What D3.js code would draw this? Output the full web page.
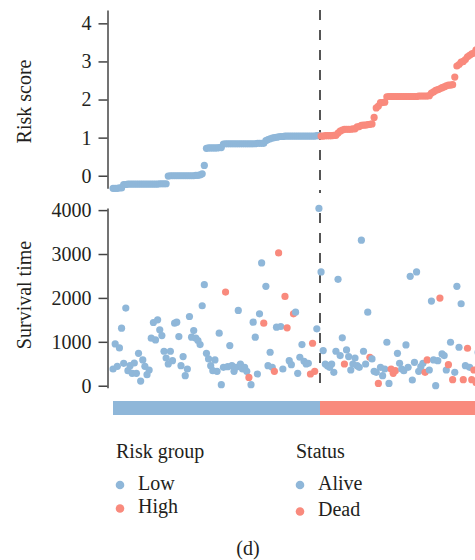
<!DOCTYPE html>
<html lang="en">
<head>
<meta charset="utf-8">
<title>Risk score, survival time and status</title>
<script src="https://d3js.org/d3.v7.min.js"></script>
<style type="text/css">
  body { margin: 0; background: #fff; }
  svg text { font-family: "Liberation Serif", "DejaVu Serif", serif; fill: #231f20; }
  .axis text { font-size: 20px; }
  .axis path, .axis line { stroke: #444; stroke-width: 1.5; }
  .label { font-size: 20px; }
</style>
</head>
<body>
<script type="text/javascript">

// risk score of each patient, sorted (low risk group, then high risk group)
const lowScore = [
  -0.33,-0.33,-0.33,-0.32,-0.32,
  -0.23,-0.23,-0.22,-0.22,-0.22,-0.22,-0.22,-0.22,-0.22,-0.22,
  -0.22,-0.22,-0.22,-0.22,-0.22,-0.22,-0.22,-0.21,-0.21,-0.21,-0.21,
  -0.01,0,0,0,0,0,0,0,0,0,0,0,0,0.01,0.01,0.02,0.05,
  0.27,
  0.72,0.73,0.73,0.73,0.73,0.73,0.74,0.74,
  0.83,0.84,0.84,0.84,0.84,0.84,0.84,0.84,0.84,0.84,
  0.84,0.84,0.84,0.84,0.84,0.84,0.85,0.85,0.85,0.85,
  0.92,0.95,0.97,0.99,1.0,1.01,1.02,1.03,1.03,1.04,
  1.04,1.04,1.04,1.04,1.04,1.04,1.04,1.04,1.04,1.04,1.04,1.04,1.04,1.04,1.05,1.05
];
const highScore = [
  1.04,1.04,1.05,1.05,1.05,1.05,1.06,1.06,
  1.12,1.17,1.2,1.22,1.22,1.22,1.22,1.23,1.23,
  1.28,1.29,1.32,1.33,1.33,1.34,1.35,
  1.36,1.53,1.78,1.83,1.92,1.92,1.93,
  2.07,2.08,2.08,2.08,2.08,2.08,2.08,2.08,2.08,2.08,2.08,2.08,2.08,2.08,2.08,2.09,2.09,2.09,2.09,2.09,2.1,
  2.17,2.2,2.24,2.26,2.28,2.31,2.33,2.36,2.38,2.38,2.39,
  2.59,2.88,2.92,2.98,3.0,3.05,3.12,3.16,3.2,3.22,3.3,3.35,3.38
];

// survival time (days), same patient order
const lowTime = [
  381,952,442,861,1311,510,1768,343,457,282,518,282,739,107,587,442,251,358,1082,1440,
  1044,1501,1273,1143,785,632,495,785,571,1425,1448,1120,457,663,229,381,1577,1105,1257,1082,
  1029,937,1821,2301,739,610,457,343,587,328,1196,23,419,2134,434,914,457,328,419,1714,
  495,381,419,328,190,23,1448,1105,267,1638,2797,1425,2263,457,762,419,328,1334,3025,1349,
  381,2034,1318,571,480,1638,1676,282,648,937,556,495,510,267,968,328,1295,4038
];
const highTime = [
  2591,800,495,457,419,495,305,785,2423,686,1090,495,815,663,358,495,632,457,419,3315,
  785,495,1676,648,610,328,305,53,419,229,381,990,53,381,282,343,739,510,381,343,
  930,419,2492,130,533,2591,328,434,510,305,587,358,1928,587,0,571,1996,724,686,358,
  480,990,137,305,2263,876,1867,137,457,853,419,137,358,76,762,1090
];

// status: 0 = alive, 1 = dead
const lowStatus = [
  0,0,0,0,0,0,0,0,0,0, 0,0,0,0,0,0,0,0,0,0, 0,0,0,0,0,0,0,0,0,0,
  0,0,0,0,0,0,0,0,0,0, 0,0,0,0,0,0,0,0,0,0, 0,0,0,1,0,0,0,0,0,0,
  0,0,0,0,1,0,0,0,0,0, 0,1,0,0,0,0,1,0,1,0, 0,1,1,0,0,1,0,0,0,0,
  0,0,0,1,1,1,0,0
];
const highStatus = [
  0,0,0,0,0,0,0,0,0,0, 0,1,0,0,0,0,0,0,0,0, 0,0,0,1,0,0,0,1,0,0,
  0,0,0,1,1,1,0,0,0,0, 0,0,0,0,0,0,0,0,0,1, 1,0,0,0,0,0,1,0,0,0,
  1,0,1,0,0,0,0,1,0,1, 0,1,1,1,0,0
];

const scoreTicks = [0, 1, 2, 3, 4];
const timeTicks = [0, 1000, 2000, 3000, 4000];
const groupNames = ["Low", "High"];
const statusNames = ["Alive", "Dead"];

const w = 475;
const h = 560;
const blue = "#8fb7d9";
const red = "#f98a7d";

const nLow = lowScore.length;
const patients = lowScore.map((s, i) => ({group: 0, score: s, time: lowTime[i], status: lowStatus[i]}))
  .concat(highScore.map((s, i) => ({group: 1, score: s, time: highTime[i], status: highStatus[i]})));
patients.forEach((d, i) => d.idx = i);

const svg = d3.select("body").append("svg")
  .attr("width", w)
  .attr("height", h);

// scales
const x = d3.scaleLinear().domain([0, nLow]).range([112, 320]);
const yScore = d3.scaleLinear().domain([-0.33, 4.35]).range([188.3, 10]);
const yTime = d3.scaleLinear().domain([-45, 4048]).range([387.7, 208]);

// axes
svg.append("g").attr("class", "axis")
  .attr("transform", "translate(107.5,0)")
  .call(d3.axisLeft(yScore).tickValues(scoreTicks).tickFormat(d3.format("d"))
    .tickSize(9).tickPadding(7).tickSizeOuter(0))
  .attr("font-family", null).attr("font-size", null);
svg.append("g").attr("class", "axis")
  .attr("transform", "translate(107.5,0)")
  .call(d3.axisLeft(yTime).tickValues(timeTicks).tickFormat(d3.format("d"))
    .tickSize(9).tickPadding(7).tickSizeOuter(0))
  .attr("font-family", null).attr("font-size", null);

svg.append("text").attr("class", "label")
  .attr("transform", "translate(31,101.5) rotate(-90)")
  .attr("text-anchor", "middle")
  .text("Risk score");
svg.append("text").attr("class", "label")
  .attr("transform", "translate(31,295) rotate(-90)")
  .attr("text-anchor", "middle")
  .text("Survival time");

// cut-off lines
const cut = x(nLow);
[[10, 193], [213, 388]].forEach(r => {
  svg.append("line")
    .attr("x1", cut).attr("x2", cut)
    .attr("y1", r[0]).attr("y2", r[1])
    .attr("stroke", "#555")
    .attr("stroke-width", 2)
    .attr("stroke-dasharray", "10,10");
});

// risk score dots
svg.append("g").selectAll("circle")
  .data(patients)
  .join("circle")
  .attr("cx", d => x(d.idx + 0.5))
  .attr("cy", d => yScore(d.score))
  .attr("r", 3.6)
  .attr("fill", d => d.group ? red : blue);

// survival dots
svg.append("g").selectAll("circle")
  .data(patients)
  .join("circle")
  .attr("cx", d => x(d.idx + 0.5))
  .attr("cy", d => yTime(d.time))
  .attr("r", 3.6)
  .attr("fill", d => d.status ? red : blue);

// risk group bar
svg.append("rect")
  .attr("x", x(0) + 1).attr("y", 401)
  .attr("width", cut - x(0) - 1).attr("height", 14)
  .attr("fill", blue);
svg.append("rect")
  .attr("x", cut).attr("y", 401)
  .attr("width", x(patients.length * 1.2) - cut).attr("height", 14)
  .attr("fill", red);

// legends
function legend(title, names, x0, rows) {
  const g = svg.append("g");
  g.append("text").attr("class", "label")
    .attr("x", x0).attr("y", 458)
    .text(title);
  names.forEach((n, i) => {
    g.append("circle")
      .attr("cx", x0 + 4).attr("cy", rows[i])
      .attr("r", 4.3)
      .attr("fill", i ? red : blue);
    g.append("text").attr("class", "label")
      .attr("x", x0 + 22).attr("y", rows[i] + 4.5)
      .text(n);
  });
}
legend("Risk group", groupNames, 116, [485, 508.5]);
legend("Status", statusNames, 296, [485, 511.5]);

svg.append("text").attr("class", "label")
  .attr("x", 248).attr("y", 555)
  .attr("text-anchor", "middle")
  .text("(d)");

</script>
</body>
</html>
